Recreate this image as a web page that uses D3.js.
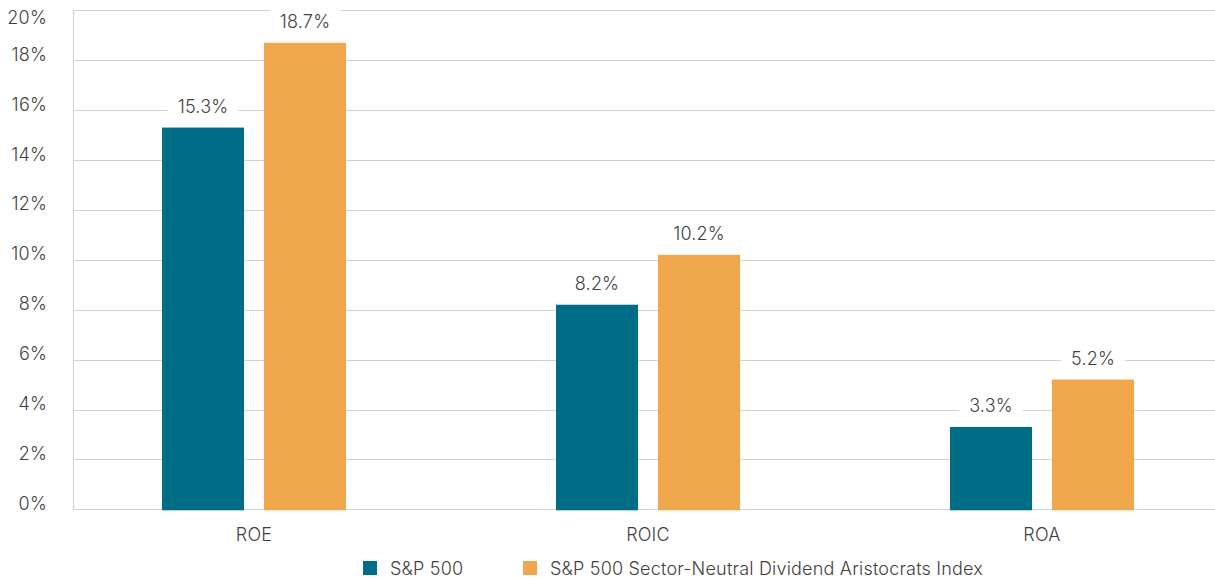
<!DOCTYPE html>
<html><head><meta charset="utf-8">
<script src="https://cdn.jsdelivr.net/npm/d3@7"></script>
<style>
html,body{margin:0;padding:0;background:#fff;}
svg{display:block;}
text{font-family:"Inter","Roboto",sans-serif;font-weight:300;fill:#3f3f3f;letter-spacing:0.2px;}
</style></head>
<body>
<svg id="chart" width="1215" height="579"></svg>
<script>
const categories = ["ROE", "ROIC", "ROA"];
const seriesNames = ["S&P 500", "S&P 500 Sector-Neutral Dividend Aristocrats Index"];
const sp500 = [15.3, 8.2, 3.3];
const aristocrats = [18.7, 10.2, 5.2];
const yTicks = [0, 2, 4, 6, 8, 10, 12, 14, 16, 18, 20];
const colors = ["#006d87", "#f0a64a"];
const FS = 18;

const svg = d3.select("#chart");
const plotLeft = 73, plotRight = 1215, plotTop = 10.3, plotBottom = 509.3;

const y = d3.scaleLinear().domain([0, 20]).range([plotBottom, plotTop]);
const x0 = d3.scaleBand().domain(categories).range([57, 1239]);
const x1 = d3.scaleBand().domain([0, 1]).range([x0.bandwidth()/2 - 92, x0.bandwidth()/2 + 92]).paddingInner(20/102);

// gridlines
svg.append("g").selectAll("line").data(yTicks).join("line")
  .attr("x1", plotLeft).attr("x2", plotRight)
  .attr("y1", d => Math.round(y(d)) + 0.5).attr("y2", d => Math.round(y(d)) + 0.5)
  .attr("stroke", "#d2d2d2").attr("stroke-width", 1.2);
svg.append("line").attr("x1", plotLeft + 0.5).attr("x2", plotLeft + 0.5)
  .attr("y1", Math.round(plotTop)).attr("y2", Math.round(plotBottom) + 1)
  .attr("stroke", "#d2d2d2").attr("stroke-width", 1.2);

// y tick labels
svg.append("g").selectAll("text").data(yTicks).join("text")
  .attr("x", 47).attr("y", d => Math.max(y(d) - 6, 17))
  .attr("text-anchor", "end").attr("dominant-baseline", "central")
  .attr("font-size", FS).text(d => d + "%");

// bars
const data = categories.map((c, i) => ({cat: c, vals: [sp500[i], aristocrats[i]]}));
const groups = svg.append("g").selectAll("g").data(data).join("g")
  .attr("transform", d => `translate(${x0(d.cat)},0)`);
groups.selectAll("rect").data(d => d.vals.map((v, k) => ({v, k}))).join("rect")
  .attr("x", d => x1(d.k)).attr("width", x1.bandwidth())
  .attr("y", d => y(d.v)).attr("height", d => y(0) - y(d.v) + 1)
  .attr("fill", d => colors[d.k]);

// value labels with white background
const lab = groups.selectAll("g.lab").data(d => d.vals.map((v, k) => ({v, k}))).join("g").attr("class", "lab");
lab.each(function(d) {
  const g = d3.select(this);
  const cx = x1(d.k) + x1.bandwidth()/2;
  const cy = y(d.v) - 21;
  const t = g.append("text").attr("x", cx).attr("y", cy)
    .attr("text-anchor", "middle").attr("dominant-baseline", "central")
    .attr("font-size", FS).text(d.v.toFixed(1) + "%");
  const bb = t.node().getBBox();
  g.insert("rect", "text").attr("x", bb.x - 10).attr("y", bb.y - 3)
    .attr("width", bb.width + 20).attr("height", bb.height + 6).attr("fill", "#fff");
});

// category labels
svg.append("g").selectAll("text").data(categories).join("text")
  .attr("x", d => x0(d) + x0.bandwidth()/2).attr("y", 534)
  .attr("text-anchor", "middle").attr("dominant-baseline", "central")
  .attr("font-size", FS).text(d => d);

// legend
const legX = [363, 523];
const leg = svg.append("g").selectAll("g").data(seriesNames).join("g")
  .attr("transform", (d, i) => `translate(${legX[i]},568)`);
leg.append("rect").attr("x", 0).attr("y", -7).attr("width", 14).attr("height", 14)
  .attr("fill", (d, i) => colors[i]);
leg.append("text").attr("x", 27).attr("y", 0).attr("dominant-baseline", "central")
  .attr("font-size", FS).text(d => d);
</script>
</body></html>
